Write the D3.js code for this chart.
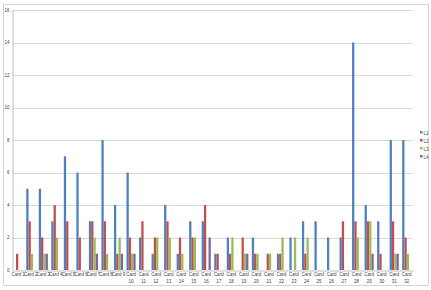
<!DOCTYPE html>
<html>
<head>
<meta charset="utf-8">
<script src="https://cdn.jsdelivr.net/npm/d3@7"></script>
<style>
  body { margin: 0; background: #fff; }
  svg { display: block; font-family: "Liberation Sans", Arial, sans-serif; }
</style>
</head>
<body>
<div id="chart"></div>
<script>
const cards = d3.range(1, 33).map(i => "Card " + i);
const seriesNames = ["L1", "L2", "L3", "L4"];
const L1 = [0, 5, 5, 3, 7, 6, 3, 8, 4, 6, 2, 1, 4, 1, 3, 3, 1, 2, 0, 2, 0, 1, 2, 3, 3, 2, 2, 14, 4, 3, 8, 8];
const L2 = [1, 3, 2, 4, 3, 2, 3, 3, 1, 2, 3, 2, 3, 2, 2, 4, 1, 1, 2, 1, 1, 1, 0, 1, 0, 0, 3, 3, 3, 1, 3, 2];
const L3 = [0, 1, 1, 2, 0, 0, 2, 1, 2, 1, 0, 2, 2, 1, 2, 0, 0, 2, 1, 1, 1, 2, 2, 2, 0, 0, 0, 2, 3, 0, 1, 1];
const L4 = [0, 0, 1, 0, 0, 0, 1, 0, 1, 1, 0, 0, 0, 0, 0, 2, 0, 0, 1, 0, 0, 0, 0, 0, 0, 0, 0, 0, 1, 0, 1, 0];
const yTicks = [0, 2, 4, 6, 8, 10, 12, 14, 16];
const colors = ["#4F81BD", "#C0504D", "#9BBB59", "#8064A2"];

const allSeries = [L1, L2, L3, L4];
const data = cards.map((c, i) => ({ card: c, values: allSeries.map((s, k) => ({ key: seriesNames[k], value: s[i] })) }));

const W = 431, H = 290;
const plot = { left: 12, right: 413, top: 10, bottom: 270 };

const svg = d3.select("#chart").append("svg")
    .attr("width", W)
    .attr("height", H);

// outer chart border
svg.append("rect")
    .attr("x", 3.5).attr("y", 4.5)
    .attr("width", 425).attr("height", 281)
    .attr("fill", "none")
    .attr("stroke", "#d4d4d4");

const y = d3.scaleLinear().domain([0, 16]).range([plot.bottom, plot.top]);

const x0 = d3.scaleBand()
    .domain(cards)
    .range([plot.left, plot.right])
    .padding(0);

const gap = x0.bandwidth() / 5.5 * 0.75;
const x1 = d3.scaleBand()
    .domain(seriesNames)
    .range([gap, x0.bandwidth() - gap])
    .padding(0);

// gridlines
svg.append("g")
    .selectAll("line")
    .data(yTicks.filter(t => t > 0))
    .enter().append("line")
    .attr("x1", plot.left).attr("x2", plot.right)
    .attr("y1", d => Math.round(y(d)) + 0.5)
    .attr("y2", d => Math.round(y(d)) + 0.5)
    .attr("stroke", "#d9d9d9");

// y axis
const yAxis = svg.append("g")
    .attr("transform", `translate(${plot.left + 0.5},0)`)
    .call(d3.axisLeft(y).tickValues(yTicks).tickSize(0).tickPadding(3));
yAxis.select(".domain").attr("stroke", "#bfbfbf");
yAxis.selectAll("text").attr("font-size", 4.5).attr("fill", "#404040");

// bars
const groups = svg.append("g")
    .selectAll("g")
    .data(data)
    .enter().append("g")
    .attr("transform", d => `translate(${x0(d.card)},0)`);

groups.selectAll("rect")
    .data(d => d.values)
    .enter().append("rect")
    .attr("x", d => x1(d.key))
    .attr("y", d => y(d.value))
    .attr("width", x1.bandwidth())
    .attr("height", d => y(0) - y(d.value))
    .attr("fill", (d, i) => colors[i]);

// x axis
const xAxis = svg.append("g")
    .attr("transform", `translate(0,${plot.bottom + 0.5})`)
    .call(d3.axisBottom(x0).tickSize(0).tickPadding(3).tickFormat(""));
xAxis.select(".domain").attr("stroke", "#bfbfbf");

// category labels (two lines for 10 and up)
const labels = svg.append("g")
    .selectAll("text")
    .data(cards)
    .enter().append("text")
    .attr("x", d => x0(d) + x0.bandwidth() / 2)
    .attr("y", plot.bottom + 6)
    .attr("text-anchor", "middle")
    .attr("font-size", 4.5)
    .attr("fill", "#404040");

labels.each(function(d, i) {
    const t = d3.select(this);
    if (i < 9) {
        t.text(d);
    } else {
        const parts = d.split(" ");
        t.append("tspan").attr("x", x0(d) + x0.bandwidth() / 2).text(parts[0]);
        t.append("tspan").attr("x", x0(d) + x0.bandwidth() / 2).attr("dy", 7).text(parts[1]);
    }
});

// legend
const legend = svg.append("g")
    .attr("transform", "translate(420,133)")
    .selectAll("g")
    .data(seriesNames)
    .enter().append("g")
    .attr("transform", (d, i) => `translate(0,${i * 8})`);

legend.append("rect")
    .attr("x", 0).attr("y", -2)
    .attr("width", 2.5).attr("height", 2.5)
    .attr("fill", (d, i) => colors[i]);

legend.append("text")
    .attr("x", 3.5).attr("y", 1.5)
    .attr("font-size", 4.5)
    .attr("fill", "#404040")
    .text(d => d);
</script>
</body>
</html>
